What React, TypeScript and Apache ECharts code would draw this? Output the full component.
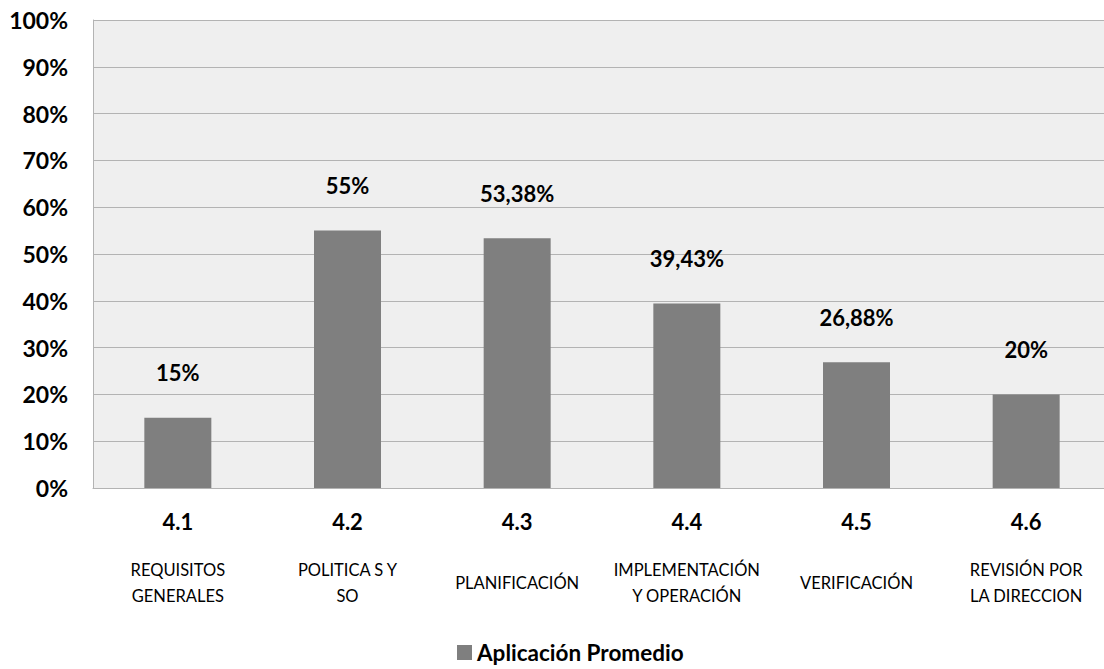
import React, { useEffect, useRef } from "react";
import * as echarts from "echarts";

const codes = ["4.1", "4.2", "4.3", "4.4", "4.5", "4.6"];
const names = [
  "REQUISITOS\nGENERALES",
  "POLITICA S Y\nSO",
  "PLANIFICACIÓN",
  "IMPLEMENTACIÓN\nY OPERACIÓN",
  "VERIFICACIÓN",
  "REVISIÓN POR\nLA DIRECCION",
];
const values = [15, 55, 53.38, 39.43, 26.88, 20];
const seriesName = "Aplicación Promedio";
const yTicks = { min: 0, max: 100, interval: 10 };

const FONT = "Lato, 'Open Sans', sans-serif";

export default function App() {
  const ref = useRef<HTMLDivElement>(null);
  useEffect(() => {
    if (!ref.current) return;
    const chart = echarts.init(ref.current, undefined, { renderer: "svg" });
    chart.setOption({
      animation: false,
      backgroundColor: "#ffffff",
      textStyle: { fontFamily: FONT },
      grid: {
        left: 93,
        top: 20,
        right: 0,
        bottom: 181,
        show: true,
        backgroundColor: "#efefef",
        borderWidth: 0,
      },
      legend: {
        data: [seriesName],
        left: 452,
        top: 636,
        itemWidth: 15,
        itemHeight: 15,
        itemGap: 6,
        icon: "rect",
        textStyle: { fontFamily: FONT, fontSize: 22.5, lineHeight: 22, fontWeight: "bold", color: "#000" },
      },
      xAxis: [
        {
          type: "category",
          data: codes,
          position: "bottom",
          offset: 0,
          axisLine: { show: true, lineStyle: { color: "#b3b3b3", width: 1 } },
          axisTick: { show: false },
          axisLabel: {
            interval: 0,
            margin: 33,
            verticalAlign: "middle",
            fontFamily: FONT,
            fontSize: 22,
            fontWeight: "bold",
            color: "#000",
          },
        },
        {
          type: "category",
          data: names,
          position: "bottom",
          offset: 0,
          axisLine: { show: false },
          axisTick: { show: false },
          splitLine: { show: false },
          axisLabel: {
            interval: 0,
            margin: 95,
            verticalAlign: "middle",
            lineHeight: 26,
            fontFamily: FONT,
            fontSize: 16.5,
            color: "#000",
          },
        },
      ],
      yAxis: {
        type: "value",
        min: yTicks.min,
        max: yTicks.max,
        interval: yTicks.interval,
        axisLine: { show: true, lineStyle: { color: "#b3b3b3", width: 1 } },
        axisTick: { show: false },
        splitLine: { show: true, lineStyle: { color: "#b3b3b3", width: 1 } },
        axisLabel: {
          margin: 25,
          formatter: "{value}%",
          fontFamily: FONT,
          fontSize: 23,
          fontWeight: "bold",
          color: "#000",
        },
      },
      series: [
        {
          name: seriesName,
          type: "bar",
          xAxisIndex: 0,
          data: values,
          barWidth: 67,
          itemStyle: { color: "#7f7f7f" },
          label: {
            show: true,
            position: "top",
            distance: 34,
            fontFamily: FONT,
            fontSize: 22,
            fontWeight: "bold",
            color: "#000",
            formatter: (p: any) => String(p.value).replace(".", ",") + "%",
          },
        },
      ],
    });
    return () => chart.dispose();
  }, []);
  return (
    <div style={{ position: "fixed", left: 0, top: 0, width: 1104, height: 669, overflow: "hidden", background: "#fff" }}>
      <div ref={ref} style={{ position: "absolute", left: 0, top: 0, width: 1111, height: 669 }} />
    </div>
  );
}
